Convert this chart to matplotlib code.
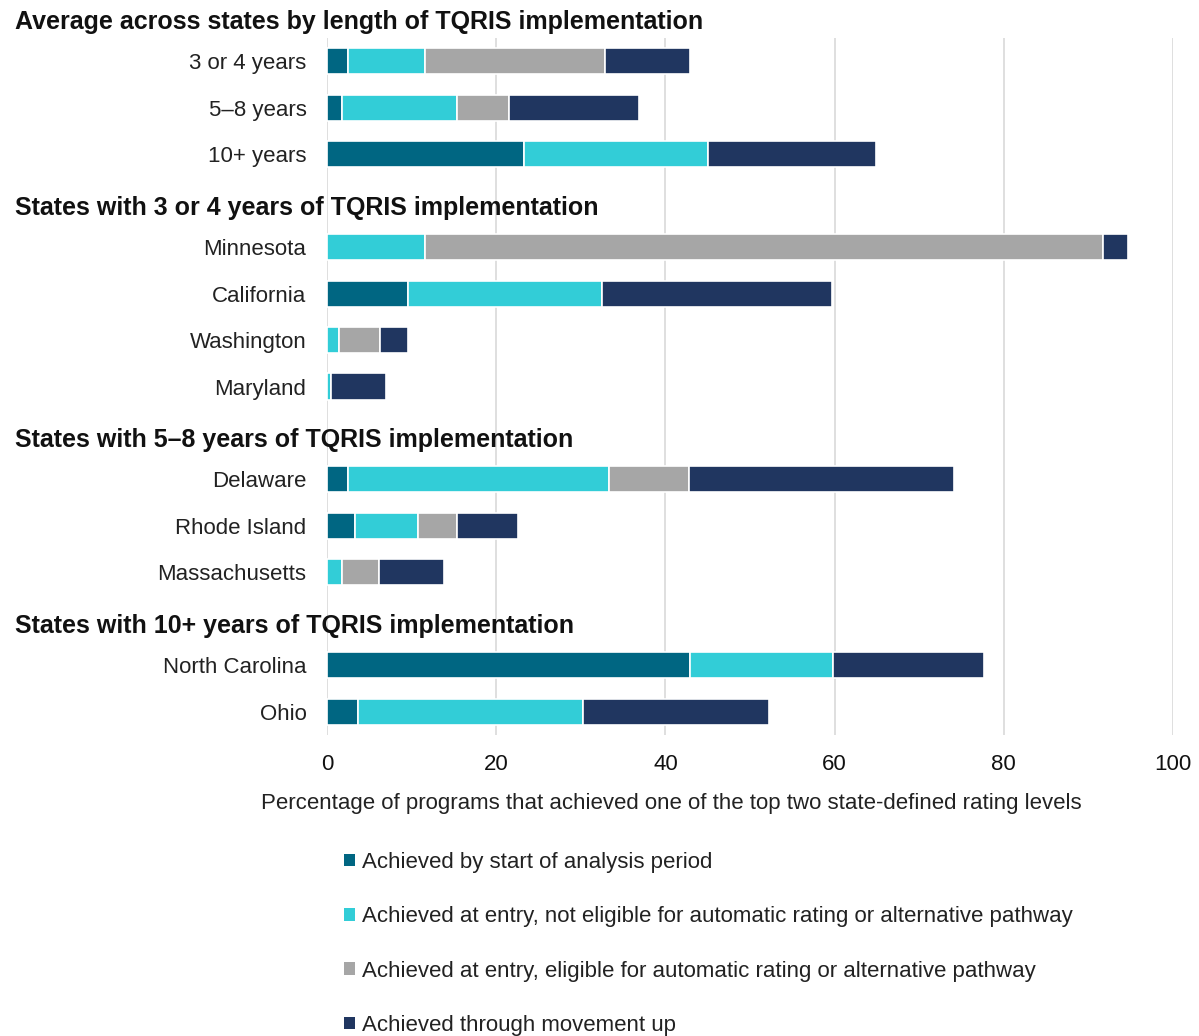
import numpy as np
import matplotlib.pyplot as plt
from matplotlib.patches import Patch
from matplotlib import font_manager
import matplotlib.transforms as mtransforms

# pick a narrow font if present
names = {f.name for f in font_manager.fontManager.ttflist}
base = 'Liberation Sans Narrow' if 'Liberation Sans Narrow' in names else 'Liberation Sans'
plt.rcParams['font.family'] = [base, 'DejaVu Sans']

# data
groups = [
    'Average across states by length of TQRIS implementation',
    'States with 3 or 4 years of TQRIS implementation',
    'States with 5\u20138 years of TQRIS implementation',
    'States with 10+ years of TQRIS implementation',
]
group_rows = [
    ['3 or 4 years', '5\u20138 years', '10+ years'],
    ['Minnesota', 'California', 'Washington', 'Maryland'],
    ['Delaware', 'Rhode Island', 'Massachusetts'],
    ['North Carolina', 'Ohio'],
]
series = [
    'Achieved by start of analysis period',
    'Achieved at entry, not eligible for automatic rating or alternative pathway',
    'Achieved at entry, eligible for automatic rating or alternative pathway',
    'Achieved through movement up',
]
# segment widths, per row
start_period = [2.4, 1.7, 23.3, 0.0, 9.5, 0.0, 0.0, 2.4, 3.3, 0.0, 42.9, 3.6]
entry_not_elig = [9.1, 13.6, 21.7, 11.5, 23.0, 1.4, 0.4, 30.9, 7.4, 1.7, 16.9, 26.6]
entry_elig = [21.3, 6.2, 0.0, 80.2, 0.0, 4.8, 0.0, 9.5, 4.6, 4.4, 0.0, 0.0]
movement_up = [10.1, 15.4, 19.9, 3.0, 27.2, 3.4, 6.6, 31.3, 7.2, 7.7, 17.9, 22.0]

colors = ['#006682', '#32CDD7', '#A6A6A6', '#203660']

# y slots: each group gets a blank slot for its header (except first, header above axes)
ypos, labels, header_y = [], [], []
slot = 0
for gi, rows in enumerate(group_rows):
    if gi > 0:
        slot += 1
    header_y.append(slot - 0.85)
    for r in rows:
        ypos.append(slot)
        labels.append(r)
        slot += 1
ypos = np.array(ypos)

fig = plt.figure(figsize=(11.99, 10.36), dpi=100)
ax = fig.add_axes([327.3 / 1199, 1 - 735 / 1036, (1172.7 - 327.3) / 1199, (735 - 38) / 1036])

left = np.zeros(len(ypos))
for vals, col, name in zip([start_period, entry_not_elig, entry_elig, movement_up], colors, series):
    vals = np.array(vals)
    ax.barh(ypos, vals, left=left, height=0.56, color=col, edgecolor='white', linewidth=1.2, label=name, zorder=3)
    left += vals

ax.set_xlim(0, 100)
ax.set_ylim(slot - 0.5, -0.5)
ax.set_xticks([0, 20, 40, 60, 80, 100])
ax.set_yticks(ypos)
ax.set_yticklabels(labels, fontsize=16, color='#222222')
ax.tick_params(axis='y', length=0, pad=15)
ax.tick_params(axis='x', length=0, pad=14, labelsize=16, labelcolor='#111111')
ax.grid(axis='x', color='#D9D9D9', linewidth=1.2, zorder=0)
for s in ax.spines.values():
    s.set_visible(False)

fig.text(671 / 1199, 1 - 803 / 1036,
         'Percentage of programs that achieved one of the top two state-defined rating levels',
         fontsize=16, color='#222222', ha='center', va='center')

trans = mtransforms.blended_transform_factory(fig.transFigure, ax.transData)
for g, hy in zip(groups, header_y):
    ax.text(15 / 1199, hy, g, transform=trans, fontsize=18, fontweight='bold',
            va='center', ha='left', color='#111111', clip_on=False)

handles = [Patch(facecolor=c, edgecolor='none') for c in colors]
fig.legend(handles, series, loc='upper left', bbox_to_anchor=(335 / 1199, 1 - 843 / 1036),
           frameon=False, fontsize=16, handlelength=0.5, handleheight=0.5, handletextpad=0.3,
           labelspacing=1.5, borderaxespad=0, labelcolor='#222222')

fig.savefig('out.png', dpi=100)
